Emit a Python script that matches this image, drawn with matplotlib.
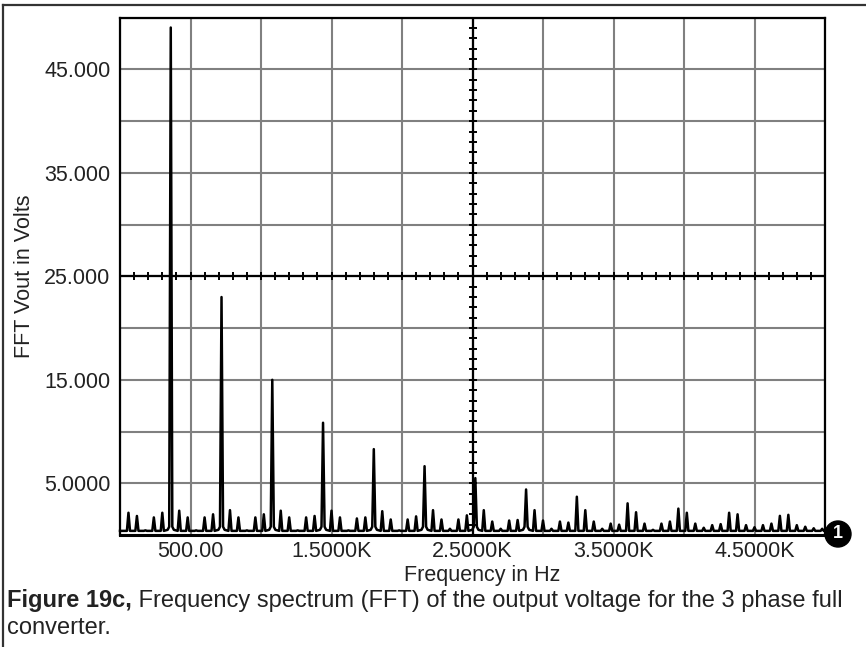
import numpy as np
import matplotlib
matplotlib.use("Agg")
import matplotlib.pyplot as plt
from matplotlib.lines import Line2D
from matplotlib.patches import Circle

plt.rcParams['font.family'] = ['Liberation Sans', 'DejaVu Sans']

# ---- data ----
harmonic_freqs = [60 * k for k in range(1, 84)]  # 60 Hz multiples, 60..4980 Hz
harmonic_amps = [
    2.15, 1.84, 0.45, 1.70, 2.15, 49.05, 2.35, 1.70, 0.45, 1.70,
    2.00, 23.00, 2.40, 1.70, 0.45, 1.70, 2.00, 15.00, 2.35, 1.70,
    0.45, 1.70, 1.84, 10.85, 2.35, 1.70, 0.45, 1.60, 1.70, 8.30,
    2.30, 1.50, 0.45, 1.50, 1.80, 6.65, 2.40, 1.50, 0.60, 1.50,
    1.90, 5.50, 2.40, 1.30, 0.60, 1.40, 1.45, 4.40, 2.40, 1.40,
    0.60, 1.30, 1.20, 3.70, 2.40, 1.30, 0.60, 1.10, 1.00, 3.06,
    2.20, 1.10, 0.50, 1.10, 1.30, 2.55, 2.15, 1.10, 0.70, 0.95,
    1.05, 2.15, 2.00, 0.95, 0.75, 0.95, 1.10, 1.85, 1.95, 0.95,
    0.80, 0.65, 0.60,
]
noise_floor = 0.40

x_ticks = [500, 1500, 2500, 3500, 4500]
x_ticklabels = ["500.00", "1.5000K", "2.5000K", "3.5000K", "4.5000K"]
y_ticks = [5, 15, 25, 35, 45]
y_ticklabels = ["5.0000", "15.000", "25.000", "35.000", "45.000"]
x_grid = list(range(0, 5001, 500))
y_grid = list(range(0, 51, 5))

# ---- build spectrum trace from the harmonic lines ----
xs = [0.0]
ys = [noise_floor]
hw = 11.0
for f, a in zip(harmonic_freqs, harmonic_amps):
    if a > 4:
        xs += [f - 22, f - hw, f, f + hw, f + 22]
        ys += [noise_floor + 0.1, 0.8, a, 0.8, noise_floor + 0.1]
    else:
        xs += [f - hw, f, f + hw]
        ys += [noise_floor, a, noise_floor]
xs.append(5000.0)
ys.append(noise_floor)

W, H = 866, 647
fig = plt.figure(figsize=(W / 100, H / 100), dpi=100)
fig.patch.set_facecolor('white')

left, right, top, bottom = 120, 825, 17.7, 535
ax = fig.add_axes([left / W, 1 - bottom / H, (right - left) / W, (bottom - top) / H])
ax.set_xlim(0, 5000)
ax.set_ylim(0, 50)

for gx in x_grid:
    ax.axvline(gx, color='#808080', lw=1.5, zorder=1)
for gy in y_grid:
    ax.axhline(gy, color='#808080', lw=1.5, zorder=1)

# crosshair axes with minor ticks
ax.axhline(25, color='black', lw=1.6, zorder=2)
ax.axvline(2500, color='black', lw=1.6, zorder=2)
tx = np.arange(100, 5000, 100)
ax.plot(tx, np.full_like(tx, 25.0, dtype=float), linestyle='none', marker='|',
        markersize=5.5, mew=1.4, color='black', zorder=2)
ty = np.arange(1, 50, 1)
ax.plot(np.full_like(ty, 2500.0, dtype=float), ty, linestyle='none', marker='_',
        markersize=5.5, mew=1.4, color='black', zorder=2)

ax.plot(xs, ys, color='black', lw=1.8, zorder=3, clip_on=False)

for s in ax.spines.values():
    s.set_color('black')
    s.set_linewidth(1.6)
    s.set_zorder(4)
ax.spines['bottom'].set_linewidth(2.2)

ax.set_xticks(x_ticks)
ax.set_xticklabels(x_ticklabels)
ax.set_yticks(y_ticks)
ax.set_yticklabels(y_ticklabels)
ax.tick_params(axis='both', length=0, labelsize=15.5, labelcolor='#222222')
ax.tick_params(axis='x', pad=4)
ax.tick_params(axis='y', pad=7)

fig.text(482 / W, 1 - 575 / H, "Frequency in Hz", ha='center', va='center',
         fontsize=15.5, color='#222222')
fig.text(25 / W, 1 - 276 / H, "FFT Vout in Volts", ha='center', va='center',
         rotation=90, fontsize=15.5, color='#222222')

# caption
cap_fs = 17.0
t1 = fig.text(7 / W, 1 - 612 / H, "Figure 19c,", fontsize=cap_fs, fontweight='bold',
              color='#222222', ha='left', va='bottom')
fig.canvas.draw()
bb = t1.get_window_extent()
fig.text(bb.x1 / W, bb.y0 / H, " Frequency spectrum (FFT) of the output voltage for the 3 phase full",
         fontsize=cap_fs, color='#222222', ha='left', va='bottom')
fig.text(7 / W, 1 - 639 / H, "converter.", fontsize=cap_fs, color='#222222',
         ha='left', va='bottom')

# outer frame
fig.add_artist(Line2D([3 / W, 3 / W], [0, 1 - 5 / H], transform=fig.transFigure,
                      color='#333333', lw=1.6))
fig.add_artist(Line2D([3 / W, 1], [1 - 5 / H, 1 - 5 / H], transform=fig.transFigure,
                      color='#333333', lw=1.6))

# badge
fig.add_artist(Circle((838, H - 534), 13, transform=None, color='black', zorder=10))
fig.text(838 / W, 1 - 534 / H, "1", ha='center', va='center', fontsize=13,
         fontweight='bold', color='white', zorder=11)

fig.savefig("out.png", dpi=100)
